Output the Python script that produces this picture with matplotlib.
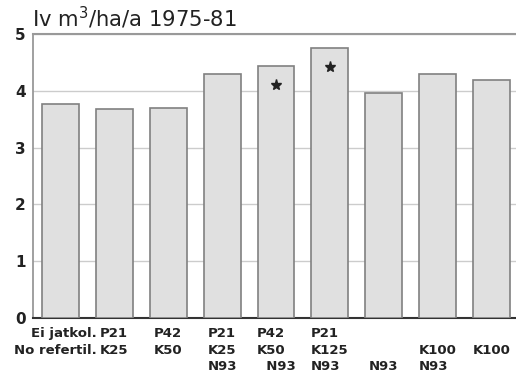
import matplotlib
matplotlib.use("Agg")
import matplotlib.pyplot as plt
import matplotlib.transforms as mtransforms

plt.rcParams["font.family"] = ["DejaVu Sans"]
plt.rcParams["mathtext.fontset"] = "dejavusans"

# Treatment labels (three rows: P, K, N) and annual volume growth
categories = [
    "Ei jatkol.\nNo refertil.",
    "P21\nK25",
    "P42\nK50",
    "P21\nK25\nN93",
    "P42\nK50\n  N93",
    "P21\nK125\nN93",
    "\n\nN93",
    "\nK100\nN93",
    "\nK100",
]
growth = [3.77, 3.68, 3.71, 4.31, 4.44, 4.77, 3.96, 4.31, 4.20]
# Significant-difference markers: (bar index, marker height)
star_bars = [4, 5]
star_levels = [4.11, 4.42]
yticks = [0, 1, 2, 3, 4, 5]

fig = plt.figure(figsize=(5.16, 3.77), dpi=100)
ax = fig.add_axes([0.0634, 0.1578, 0.9366, 0.7507])

x = list(range(len(growth)))
ax.bar(x, growth, width=0.685, color="#e0e0e0", edgecolor="#808080",
       linewidth=1.2, zorder=3)
ax.plot(star_bars, star_levels, linestyle="none", marker="*",
        markersize=8, color="#222222", zorder=4)

ax.set_xlim(-0.51, 8.45)
ax.set_ylim(0, 5)
ax.set_yticks(yticks)
ax.set_yticklabels([str(t) for t in yticks], fontsize=11,
                   fontweight="bold", color="#222222")
ax.tick_params(axis="y", length=0, pad=5)
ax.yaxis.grid(True, color="#cccccc", linewidth=1.0, zorder=0)
ax.set_axisbelow(True)

ax.set_xticks(x)
ax.set_xticklabels(categories, fontsize=9.5, fontweight="bold",
                   color="#222222", linespacing=1.35)
ax.tick_params(axis="x", length=0, pad=7)
for i, lab in enumerate(ax.get_xticklabels()):
    lab.set_multialignment("right" if i == 0 else "left")
first = ax.get_xticklabels()[0]
first.set_transform(first.get_transform() +
                    mtransforms.ScaledTranslation(-5 / 100, 0, fig.dpi_scale_trans))

ax.spines["right"].set_visible(False)
ax.spines["top"].set_color("#999999")
ax.spines["top"].set_linewidth(1.5)
ax.spines["left"].set_color("#999999")
ax.spines["left"].set_linewidth(1.3)
ax.spines["bottom"].set_color("#333333")
ax.spines["bottom"].set_linewidth(1.5)

fig.text(0.062, 1 - 27 / 377, r"Iv m$^{3}$/ha/a 1975-81", fontsize=15.2,
         ha="left", va="baseline", color="#222222")

fig.savefig("out.png", dpi=100)
